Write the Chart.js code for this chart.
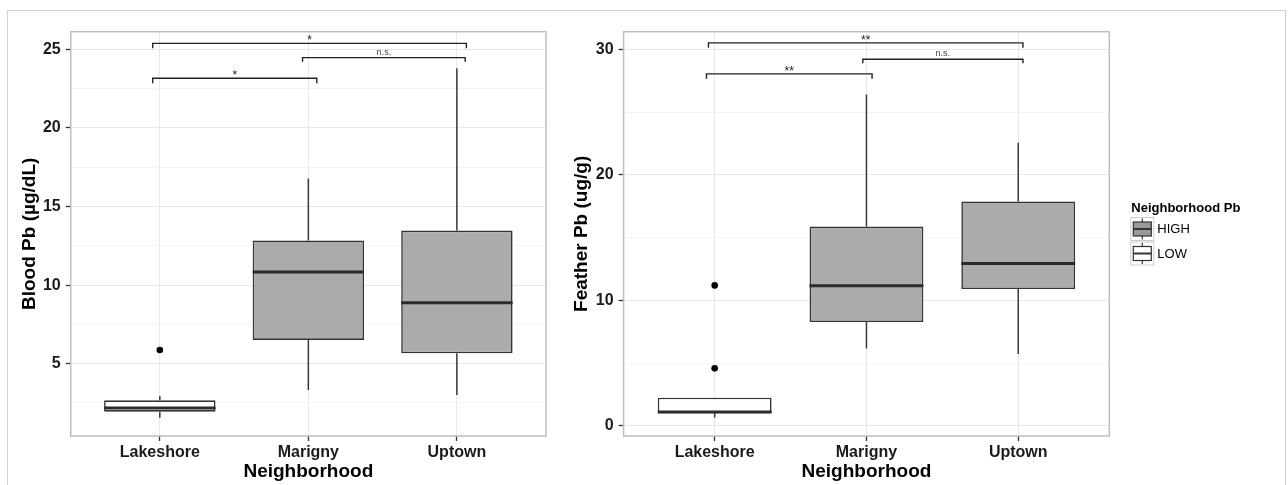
<!DOCTYPE html>
<html>
<head>
<meta charset="utf-8">
<script src="https://cdn.jsdelivr.net/npm/chart.js@4.4.0/dist/chart.umd.min.js"></script>
<style>
  html, body { margin: 0; padding: 0; background: #fff; }
  #page { position: relative; width: 1288px; height: 485px; overflow: hidden; }
  #frame { position: absolute; left: 7px; top: 10px; width: 1277px; height: 480px;
           border: 1px solid #d0d0d0; border-bottom: none; }
  canvas { position: absolute; top: 0; }
  #bloodChart { left: 0; }
  #featherChart { left: 560px; }
</style>
</head>
<body>
<div id="page">
  <div id="frame"></div>
  <canvas id="bloodChart" width="560" height="485"></canvas>
  <canvas id="featherChart" width="728" height="485"></canvas>
</div>
<script>
const categories = ["Lakeshore", "Marigny", "Uptown"];
const neighborhoodPb = ["LOW", "HIGH", "HIGH"];

// Blood Pb (µg/dL)
const bloodMin = [1.56, 3.33, 3.01];
const bloodQ1 = [1.95, 6.51, 5.66];
const bloodMedian = [2.18, 10.84, 8.87];
const bloodQ3 = [2.67, 12.84, 13.47];
const bloodMax = [2.95, 16.78, 23.79];
const bloodOutliers = [[5.87], [], []];

// Feather Pb (ug/g)
const featherMin = [0.66, 6.18, 5.73];
const featherQ1 = [1.02, 8.28, 10.91];
const featherMedian = [1.12, 11.17, 12.95];
const featherQ3 = [2.25, 15.9, 17.89];
const featherMax = [2.25, 26.4, 22.56];
const featherOutliers = [[11.2, 4.59], [], []];

// axis ticks
const bloodTicks = [5, 10, 15, 20, 25];
const bloodMinorTicks = [2.5, 7.5, 12.5, 17.5, 22.5];
const featherTicks = [0, 10, 20, 30];
const featherMinorTicks = [5, 15, 25];

// significance brackets (x in category units, y in data units)
const bloodSigFrom = [0.952, 1.961, 0.952];
const bloodSigTo = [3.064, 3.056, 2.057];
const bloodSigY = [25.38, 24.47, 23.16];
const bloodSigLabel = ["*", "n.s.", "*"];

const featherSigFrom = [0.959, 1.976, 0.946];
const featherSigTo = [3.031, 3.031, 2.037];
const featherSigY = [30.52, 29.22, 28.05];
const featherSigLabel = ["**", "n.s.", "**"];

const FONT = "'Liberation Sans', Arial, Helvetica, sans-serif";
const fillFor = { HIGH: "#ababab", LOW: "#ffffff" };

function boxParts(stats) {
  return {
    id: "boxParts",
    beforeDatasetsDraw(chart) {
      const { ctx, scales: { x, y } } = chart;
      ctx.save();
      ctx.strokeStyle = "#3a3a3a";
      ctx.lineWidth = 1.5;
      stats.min.forEach((lo, i) => {
        const px = x.getPixelForValue(i + 1);
        ctx.beginPath();
        ctx.moveTo(px, y.getPixelForValue(stats.max[i]));
        ctx.lineTo(px, y.getPixelForValue(stats.q3[i]));
        ctx.moveTo(px, y.getPixelForValue(stats.q1[i]));
        ctx.lineTo(px, y.getPixelForValue(lo));
        ctx.stroke();
      });
      ctx.restore();
    },
    afterDatasetsDraw(chart) {
      const { ctx, scales: { y } } = chart;
      const bars = chart.getDatasetMeta(0).data;
      ctx.save();
      ctx.strokeStyle = "#2b2b2b";
      ctx.lineWidth = 3;
      stats.median.forEach((m, i) => {
        const b = bars[i];
        const py = y.getPixelForValue(m);
        ctx.beginPath();
        ctx.moveTo(b.x - b.width / 2, py);
        ctx.lineTo(b.x + b.width / 2, py);
        ctx.stroke();
      });
      ctx.restore();
    },
  };
}

function brackets(sig) {
  return {
    id: "brackets",
    afterDatasetsDraw(chart) {
      const { ctx, scales: { x, y } } = chart;
      ctx.save();
      ctx.strokeStyle = "#222";
      ctx.fillStyle = "#222";
      ctx.lineWidth = 1.4;
      ctx.textAlign = "center";
      ctx.textBaseline = "alphabetic";
      sig.y.forEach((v, i) => {
        const x1 = x.getPixelForValue(sig.from[i]);
        const x2 = x.getPixelForValue(sig.to[i]);
        const py = y.getPixelForValue(v);
        const ns = sig.label[i] === "n.s.";
        const tip = ns ? 4 : 5;
        ctx.beginPath();
        ctx.moveTo(x1, py + tip);
        ctx.lineTo(x1, py);
        ctx.lineTo(x2, py);
        ctx.lineTo(x2, py + tip);
        ctx.stroke();
        ctx.fillStyle = ns ? "#444" : "#222";
        ctx.font = ns ? "9px " + FONT : "12px " + FONT;
        ctx.fillText(sig.label[i], (x1 + x2) / 2, ns ? py - 3 : py + 1);
      });
      ctx.restore();
    },
  };
}

const panelBorder = {
  id: "panelBorder",
  afterDraw(chart) {
    const { ctx, chartArea: a } = chart;
    ctx.save();
    ctx.strokeStyle = "#bdbdbd";
    ctx.lineWidth = 1.5;
    ctx.strokeRect(a.left, a.top, a.right - a.left, a.bottom - a.top);
    ctx.restore();
  },
};

const pbLegend = {
  id: "pbLegend",
  afterDraw(chart) {
    const { ctx, chartArea: a } = chart;
    const left = a.right + 21;
    ctx.save();
    ctx.fillStyle = "#000";
    ctx.font = "bold 13px " + FONT;
    ctx.textAlign = "left";
    ctx.textBaseline = "middle";
    ctx.fillText("Neighborhood Pb", left + 1, 208);
    ["HIGH", "LOW"].forEach((lvl, i) => {
      const top = 217 + i * 24.5;
      ctx.fillStyle = "#fff";
      ctx.fillRect(left, top, 24, 24);
      ctx.strokeStyle = "#cccccc";
      ctx.lineWidth = 1;
      ctx.strokeRect(left + 0.5, top + 0.5, 23, 23);
      ctx.strokeStyle = "#333";
      ctx.lineWidth = 1.2;
      ctx.beginPath();
      ctx.moveTo(left + 12, top + 1.5);
      ctx.lineTo(left + 12, top + 22.5);
      ctx.stroke();
      ctx.fillStyle = lvl === "HIGH" ? "#999999" : "#ffffff";
      ctx.fillRect(left + 3, top + 5, 18, 14);
      ctx.strokeRect(left + 3, top + 5, 18, 14);
      ctx.lineWidth = 2;
      ctx.beginPath();
      ctx.moveTo(left + 3, top + 12);
      ctx.lineTo(left + 21, top + 12);
      ctx.stroke();
      ctx.fillStyle = "#000";
      ctx.font = "13px " + FONT;
      ctx.fillText(lvl, left + 27, top + 12.5);
    });
    ctx.restore();
  },
};

function makePanel(canvasId, cfg) {
  const ctx = document.getElementById(canvasId).getContext("2d");
  const major = cfg.ticks;
  const minor = cfg.minorTicks;
  const isMinor = (v) => minor.includes(v);

  const plugins = [boxParts(cfg.stats), brackets(cfg.sig), panelBorder];
  if (cfg.legend) plugins.push(pbLegend);

  return new Chart(ctx, {
    type: "bar",
    data: {
      datasets: [
        {
          label: "box",
          data: categories.map((c, i) => ({ x: i + 1, y: [cfg.stats.q1[i], cfg.stats.q3[i]] })),
          backgroundColor: neighborhoodPb.map((l) => fillFor[l]),
          borderColor: "#333",
          borderWidth: 1.6,
          borderSkipped: false,
          barPercentage: 0.75,
          categoryPercentage: 1,
        },
        {
          type: "scatter",
          label: "outliers",
          data: cfg.outliers.flatMap((list, i) => list.map((v) => ({ x: i + 1, y: v }))),
          pointRadius: 3.3,
          pointBackgroundColor: "#000",
          pointBorderWidth: 0,
        },
      ],
    },
    options: {
      responsive: false,
      animation: false,
      events: [],
      layout: { padding: { left: 0, top: 31.7, right: cfg.padRight, bottom: 0 } },
      plugins: { legend: { display: false }, tooltip: { enabled: false } },
      scales: {
        x: {
          type: "linear",
          min: 0.4,
          max: 3.6,
          offset: false,
          afterBuildTicks: (s) => { s.ticks = categories.map((c, i) => ({ value: i + 1 })); },
          afterFit: (s) => { s.height = 49; },
          border: { display: false },
          grid: { offset: false, color: "#e8e8e8", lineWidth: 1, tickColor: "#333", tickLength: 5, tickWidth: 1.3 },
          ticks: {
            autoSkip: false,
            maxRotation: 0,
            padding: 2,
            color: "#1a1a1a",
            font: { family: FONT, size: 16, weight: "bold" },
            callback: (v) => categories[v - 1] || "",
          },
          title: {
            display: true,
            text: "Neighborhood",
            color: "#000",
            font: { family: FONT, size: 19, weight: "bold" },
            padding: { top: 0, bottom: 2 },
          },
        },
        y: {
          min: cfg.yMin,
          max: cfg.yMax,
          afterBuildTicks: (s) => {
            s.ticks = major.concat(minor).sort((a, b) => a - b).map((v) => ({ value: v }));
          },
          afterFit: (s) => { s.width = cfg.axisWidth; },
          border: { display: false },
          grid: {
            lineWidth: 1,
            color: (c) => (c.tick && isMinor(c.tick.value) ? "#f4f4f4" : "#e8e8e8"),
            tickColor: (c) => (c.tick && isMinor(c.tick.value) ? "rgba(0,0,0,0)" : "#333"),
            tickLength: 5,
            tickWidth: 1.3,
          },
          ticks: {
            autoSkip: false,
            padding: 5,
            color: "#1a1a1a",
            font: { family: FONT, size: 16, weight: "bold" },
            callback: (v) => (isMinor(v) ? "" : String(v)),
          },
          title: {
            display: true,
            text: cfg.yTitle,
            color: "#000",
            font: { family: FONT, size: 19, weight: "bold" },
            padding: { top: cfg.titlePad, bottom: 0 },
          },
        },
      },
    },
    plugins: plugins,
  });
}

document.addEventListener("DOMContentLoaded", function () {
  makePanel("bloodChart", {
    stats: { min: bloodMin, q1: bloodQ1, median: bloodMedian, q3: bloodQ3, max: bloodMax },
    outliers: bloodOutliers,
    sig: { from: bloodSigFrom, to: bloodSigTo, y: bloodSigY, label: bloodSigLabel },
    ticks: bloodTicks,
    minorTicks: bloodMinorTicks,
    yMin: 0.4,
    yMax: 26.12,
    yTitle: "Blood Pb (µg/dL)",
    axisWidth: 70.7,
    padRight: 14,
    titlePad: 18.5,
  });

  makePanel("featherChart", {
    stats: { min: featherMin, q1: featherQ1, median: featherMedian, q3: featherQ3, max: featherMax },
    outliers: featherOutliers,
    sig: { from: featherSigFrom, to: featherSigTo, y: featherSigY, label: featherSigLabel },
    ticks: featherTicks,
    minorTicks: featherMinorTicks,
    yMin: -0.8,
    yMax: 31.41,
    yTitle: "Feather Pb (ug/g)",
    axisWidth: 63.6,
    padRight: 178.7,
    titlePad: 10,
    legend: true,
  });
});
</script>
</body>
</html>
